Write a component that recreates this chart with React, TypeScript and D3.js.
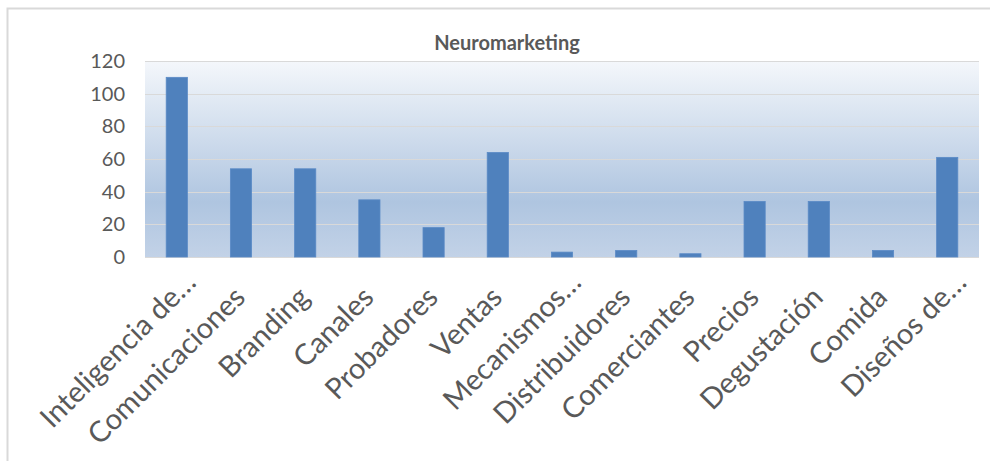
import { useEffect, useRef } from 'react';
import * as d3 from 'd3';

const categories = [
  "Inteligencia de…",
  "Comunicaciones",
  "Branding",
  "Canales",
  "Probadores",
  "Ventas",
  "Mecanismos…",
  "Distribuidores",
  "Comerciantes",
  "Precios",
  "Degustación",
  "Comida",
  "Diseños de…",
];

const values = [110, 54, 54, 35, 18, 64, 3, 4, 2, 34, 34, 4, 61];

const yTicks = [0, 20, 40, 60, 80, 100, 120];

const title = "Neuromarketing";

const App = () => {
  const svgRef = useRef<SVGSVGElement>(null);

  useEffect(() => {
    if (!svgRef.current) return;
    const svg = d3.select(svgRef.current);
    svg.selectAll("*").remove();

    const width = 990;
    const height = 461;
    const plot = { left: 145, right: 979, top: 61, bottom: 257 };

    // outer frame (right/bottom edges sit off the picture)
    svg.append("rect")
      .attr("x", 7.5)
      .attr("y", 8.5)
      .attr("width", width)
      .attr("height", height)
      .style("fill", "white")
      .style("stroke", "#d9d9d9")
      .style("stroke-width", 2);

    // plot area gradient
    const defs = svg.append("defs");
    const grad = defs.append("linearGradient")
      .attr("id", "plotGrad")
      .attr("x1", 0).attr("y1", 0).attr("x2", 0).attr("y2", 1);
    grad.append("stop").attr("offset", "0%").attr("stop-color", "#f4f7fb");
    grad.append("stop").attr("offset", "72%").attr("stop-color", "#afc5e0");
    grad.append("stop").attr("offset", "100%").attr("stop-color", "#c2d2e7");

    const x = d3.scaleBand<string>()
      .domain(categories)
      .range([plot.left, plot.right])
      .paddingInner(0.67)
      .paddingOuter(0.33);

    const y = d3.scaleLinear()
      .domain([0, 120])
      .range([plot.bottom, plot.top]);

    svg.append("rect")
      .attr("x", plot.left)
      .attr("y", plot.top)
      .attr("width", plot.right - plot.left)
      .attr("height", plot.bottom - plot.top)
      .style("fill", "url(#plotGrad)");

    // gridlines
    svg.append("g")
      .selectAll("line")
      .data(yTicks)
      .enter()
      .append("line")
      .attr("x1", plot.left)
      .attr("x2", plot.right)
      .attr("y1", d => Math.round(y(d)) + 0.5)
      .attr("y2", d => Math.round(y(d)) + 0.5)
      .style("stroke", "#d9d9d9")
      .style("stroke-width", 1);

    // y tick labels
    svg.append("g")
      .selectAll("text")
      .data(yTicks)
      .enter()
      .append("text")
      .attr("x", 125)
      .attr("y", d => y(d))
      .attr("dy", "0.35em")
      .attr("text-anchor", "end")
      .style("font-family", "Lato, 'Open Sans', sans-serif")
      .style("font-size", "20px")
      .style("fill", "#595959")
      .text(d => d.toString());

    // bars
    svg.append("g")
      .selectAll("rect")
      .data(values)
      .enter()
      .append("rect")
      .attr("x", (d, i) => x(categories[i])!)
      .attr("y", d => y(d))
      .attr("width", x.bandwidth())
      .attr("height", d => y(0) - y(d))
      .style("fill", "#4f81bd")
      .style("stroke", "#5a8ac6")
      .style("stroke-width", 0.8);

    // category labels (truncated ones sit a bit further along the baseline)
    svg.append("g")
      .selectAll("text")
      .data(categories)
      .enter()
      .append("text")
      .attr("transform", d => `translate(${x(d)! + x.bandwidth() / 2 + 6}, 299) rotate(-45)`)
      .attr("dx", d => d.endsWith("…") ? 21 : 0)
      .attr("text-anchor", "end")
      .style("font-family", "Lato, 'Open Sans', sans-serif")
      .style("font-size", "29px")
      .style("fill", "#595959")
      .text(d => d);

    // title
    svg.append("text")
      .attr("x", 507)
      .attr("y", 50)
      .attr("text-anchor", "middle")
      .style("font-family", "Lato, 'Open Sans', sans-serif")
      .style("font-size", "20px")
      .style("font-weight", "bold")
      .style("fill", "#595959")
      .text(title);
  }, []);

  return (
    <div style={{ position: 'absolute', left: 0, top: 0 }}>
      <svg ref={svgRef} width={990} height={461} style={{ display: 'block' }}></svg>
    </div>
  );
};

export default App;
